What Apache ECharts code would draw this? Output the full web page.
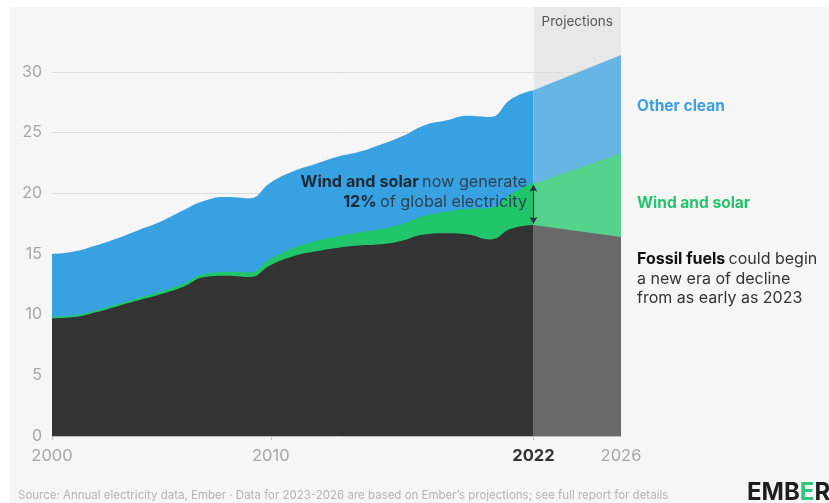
<!DOCTYPE html>
<html>
<head>
<meta charset="utf-8">
<script src="https://cdn.jsdelivr.net/npm/echarts/dist/echarts.min.js"></script>
<style>
  html, body { margin: 0; padding: 0; background: #ffffff; }
  #chart { width: 829px; height: 503px; }
</style>
</head>
<body>
<div id="chart"></div>
<script>
// Global electricity generation by source (thousand TWh), 2000–2022
const years = [2000, 2001, 2002, 2003, 2004, 2005, 2006, 2007, 2008, 2009, 2010,
               2011, 2012, 2013, 2014, 2015, 2016, 2017, 2018, 2019, 2020, 2021, 2022];
const fossil = [9.7, 9.8, 10.2, 10.7, 11.2, 11.7, 12.3, 13.1, 13.2, 13.1, 14.1,
                14.8, 15.2, 15.5, 15.7, 15.8, 16.1, 16.6, 16.7, 16.6, 16.2, 17.1, 17.4];
const windSolar = [0.05, 0.06, 0.07, 0.09, 0.11, 0.14, 0.17, 0.2, 0.25, 0.3, 0.45,
                   0.6, 0.75, 0.85, 1.0, 1.15, 1.3, 1.45, 1.7, 2.05, 2.5, 2.8, 3.4];
const otherClean = [5.25, 5.34, 5.43, 5.51, 5.69, 5.86, 6.13, 6.1, 6.25, 6.2, 6.35,
                    6.4, 6.45, 6.65, 6.7, 7.05, 7.3, 7.55, 7.6, 7.75, 7.6, 7.9, 7.7];

// Projections 2022 → 2026
const projYears = [2022, 2026];
const projFossil = [17.4, 16.4];
const projWindSolar = [3.4, 6.9];
const projOtherClean = [7.7, 8.1];

const xLabelYears = [2000, 2010, 2022, 2026];
const xTickYears = [2000, 2010, 2022];
const yMin = 0, yMax = 30, yStep = 5;

const COLORS = {
  fossil: '#333333', wind: '#21c66b', other: '#38a1e1',
  fossilProj: '#6a6a6a', windProj: '#55d38d', otherProj: '#66b5e5'
};
const FONT = 'Inter, "Noto Sans", sans-serif';

// Cumulative layers: each area is filled down to the axis and drawn
// from the tallest layer to the lowest, so each band reads as a stack.
const addUp = (...layers) => layers[0].map((_, i) => layers.reduce((s, l) => s + l[i], 0));
const pairs = (xs, ys) => xs.map((x, i) => [x, +ys[i].toFixed(3)]);

function areaSeries(name, xs, ys, color, z, projected, extra) {
  return Object.assign({
    name: name,
    type: 'line',
    data: pairs(xs, ys),
    smooth: projected ? false : 0.5,
    showSymbol: false,
    symbol: 'none',
    clip: false,
    silent: true,
    lineStyle: { width: 0, color: color },
    areaStyle: { color: color, opacity: 1 },
    z: z
  }, extra || {});
}

const last = years.length - 1;
const chart = echarts.init(document.getElementById('chart'), null, { renderer: 'canvas' });

const option = {
  backgroundColor: '#ffffff',
  animation: false,
  grid: { left: 52, right: 208, top: 72, bottom: 67, containLabel: false },
  xAxis: {
    type: 'value',
    min: 2000,
    max: 2026,
    interval: 1,
    splitLine: { show: false },
    axisLine: { show: true, lineStyle: { color: '#bdbdbd', width: 1 } },
    axisTick: {
      show: true, length: 4, customValues: xTickYears,
      lineStyle: { color: '#bdbdbd' }
    },
    axisLabel: {
      customValues: xLabelYears,
      margin: 12,
      fontFamily: FONT,
      fontSize: 16.5,
      color: '#a6a6a6',
      formatter: v => (v === 2022 ? '{b|' + v + '}' : String(v)),
      rich: { b: { fontFamily: FONT, fontSize: 16.5, fontWeight: 'bold', color: '#333333' } }
    }
  },
  yAxis: {
    type: 'value',
    min: yMin,
    max: yMax,
    interval: yStep,
    axisLine: { show: false },
    axisTick: { show: false },
    axisLabel: { fontFamily: FONT, fontSize: 16, color: '#a6a6a6', margin: 10 },
    splitLine: { show: true, showMinLine: false, lineStyle: { color: '#dcdcdc', width: 1 } }
  },
  series: [
    areaSeries('Other clean', years, addUp(fossil, windSolar, otherClean), COLORS.other, 2, false),
    areaSeries('Wind and solar', years, addUp(fossil, windSolar), COLORS.wind, 3, false,
      { lineStyle: { width: 2, color: COLORS.wind } }),
    areaSeries('Fossil fuels', years, fossil, COLORS.fossil, 4, false),
    areaSeries('Other clean (projected)', projYears, addUp(projFossil, projWindSolar, projOtherClean), COLORS.otherProj, 2, true),
    areaSeries('Wind and solar (projected)', projYears, addUp(projFossil, projWindSolar), COLORS.windProj, 3, true),
    areaSeries('Fossil fuels (projected)', projYears, projFossil, COLORS.fossilProj, 4, true),
    {
      // double-headed arrow spanning the 2022 wind and solar share
      type: 'line',
      data: [[years[last], fossil[last]]],
      showSymbol: false,
      symbol: 'none',
      silent: true,
      lineStyle: { width: 0 },
      z: 6,
      markLine: {
        silent: true,
        symbol: ['arrow', 'arrow'],
        symbolSize: [6, 7],
        label: { show: false },
        lineStyle: { color: '#26343a', width: 1.2, type: 'solid' },
        data: [[
          { coord: [years[last], fossil[last] + 0.1] },
          { coord: [years[last], fossil[last] + windSolar[last] - 0.1] }
        ]]
      }
    }
  ]
};

chart.setOption(option);

// Background panel and the shaded projection band, placed through the axes
const bandLeft = chart.convertToPixel({ gridIndex: 0 }, [projYears[0], 0]);
const bandRight = chart.convertToPixel({ gridIndex: 0 }, [projYears[1], 0]);
const yTop = 7;

const shareLabel = Math.round(windSolar[last] / (fossil[last] + windSolar[last] + otherClean[last]) * 100);

chart.setOption({
  graphic: [
    {
      type: 'rect', z: -10, silent: true,
      shape: { x: 10, y: yTop, width: 829 - 10, height: 503 - yTop },
      style: { fill: '#f6f6f6' }
    },
    {
      type: 'rect', z: 1, silent: true,
      shape: { x: bandLeft[0], y: yTop, width: bandRight[0] - bandLeft[0], height: bandLeft[1] - yTop },
      style: { fill: 'rgba(224,224,224,0.6)' }
    },
    {
      type: 'text', z: 7, silent: true,
      x: (bandLeft[0] + bandRight[0]) / 2, y: 22,
      style: {
        text: 'Projections', fontFamily: FONT, fontSize: 13.5, fill: '#555555',
        align: 'center', verticalAlign: 'middle'
      }
    },
    {
      type: 'text', z: 7, silent: true,
      x: 527, y: 192,
      style: {
        text: '{b|Wind and solar} {n|now generate}\n{b|' + shareLabel + '%} {n|of global electricity}',
        align: 'right', verticalAlign: 'middle',
        rich: {
          b: { fontFamily: FONT, fontSize: 16.2, fontWeight: 'bold', fill: '#1c2a36', lineHeight: 20 },
          n: { fontFamily: FONT, fontSize: 16.2, fill: '#2c4354', lineHeight: 20 }
        }
      }
    },
    {
      type: 'text', z: 7, silent: true,
      x: 637, y: 106,
      style: {
        text: 'Other clean', fontFamily: FONT, fontSize: 15.5, fontWeight: 'bold',
        fill: '#3aa0e0', align: 'left', verticalAlign: 'middle'
      }
    },
    {
      type: 'text', z: 7, silent: true,
      x: 637, y: 203,
      style: {
        text: 'Wind and solar', fontFamily: FONT, fontSize: 15.5, fontWeight: 'bold',
        fill: '#22c46c', align: 'left', verticalAlign: 'middle'
      }
    },
    {
      type: 'text', z: 7, silent: true,
      x: 637, y: 279,
      style: {
        text: '{b|Fossil fuels} {n|could begin}\n{n|a new era of decline}\n{n|from as early as 2023}',
        align: 'left', verticalAlign: 'middle',
        rich: {
          b: { fontFamily: FONT, fontSize: 16, fontWeight: 'bold', fill: '#111111', lineHeight: 19.5 },
          n: { fontFamily: FONT, fontSize: 16, fill: '#333333', lineHeight: 19.5 }
        }
      }
    },
    {
      type: 'text', z: 7, silent: true,
      x: 18, y: 496,
      style: {
        text: 'Source: Annual electricity data, Ember · Data for 2023-2026 are based on Ember\u2019s projections; see full report for details',
        fontFamily: FONT, fontSize: 11.5, fill: '#b4b4b4', align: 'left', verticalAlign: 'middle'
      }
    },
    {
      type: 'text', z: 7, silent: true,
      x: 747, y: 493,
      style: {
        text: '{d|EMB}{g|E}{d|R}',
        align: 'left', verticalAlign: 'middle',
        rich: {
          d: { fontFamily: FONT, fontSize: 24, fontWeight: 'bold', fill: '#1e1e1e' },
          g: { fontFamily: FONT, fontSize: 24, fontWeight: 'bold', fill: '#2fc87a' }
        }
      }
    }
  ]
});
</script>
</body>
</html>
